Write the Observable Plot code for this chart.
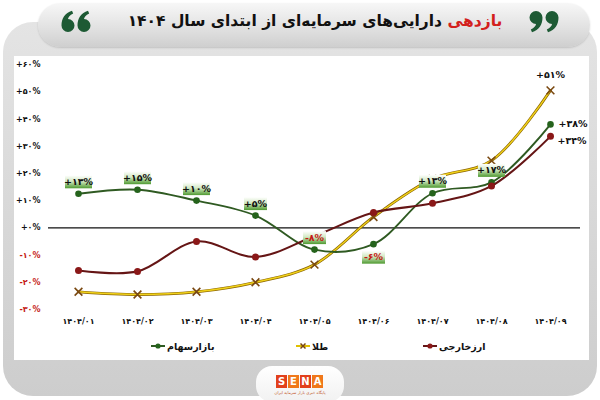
<!DOCTYPE html>
<html><head><meta charset="utf-8">
<script src="https://cdn.jsdelivr.net/npm/d3@7"></script>
<script src="https://cdn.jsdelivr.net/npm/@observablehq/plot@0.6"></script>
<style>
body{margin:0;background:#fff;font-family:"DejaVu Sans",sans-serif;}
#wrap{position:relative;width:600px;height:400px;overflow:hidden;background:#fff;}
.frame{position:absolute;left:3px;top:22px;width:594px;height:374px;border-radius:30px;background:linear-gradient(180deg,#e4e4e4 0%,#d6d6d6 60%,#cdcdcd 100%);}
.pill{position:absolute;left:38px;top:3px;width:552px;height:44px;border-radius:24px;background:linear-gradient(180deg,#f7f7f7 0%,#e2e2e2 55%,#cfcfcf 100%);box-shadow:0 1px 2px rgba(0,0,0,0.15);}
.panel{position:absolute;left:14px;top:56px;width:575px;height:304px;background:#fff;}
.title{position:absolute;left:125px;top:9px;width:380px;text-align:center;direction:rtl;font-weight:bold;font-size:15.5px;color:#111;white-space:nowrap;line-height:24px;}
.title .hl{color:#d3201c;}
.q{position:absolute;top:10px;}
.tab{position:absolute;left:256px;top:366px;width:88px;height:36px;border-radius:16px;background:linear-gradient(180deg,#ffffff,#f1f1f1);}
.sena{position:absolute;left:276px;top:375px;display:flex;gap:1px;}
.sena span{display:block;width:11px;height:13px;color:#fff;font-weight:bold;font-size:10px;line-height:13px;text-align:center;font-family:"DejaVu Sans",sans-serif;}
.sub{position:absolute;left:270px;top:390px;width:60px;text-align:center;font-size:4px;color:#c0501c;direction:rtl;white-space:nowrap;}
.leg{position:absolute;top:339px;height:14px;display:flex;align-items:center;gap:2px;font-weight:bold;font-size:9.5px;color:#111;white-space:nowrap;}
.leg span{direction:rtl;}
#chart{position:absolute;left:0;top:0;}
</style></head><body>
<div id="wrap">
  <div class="frame"></div>
  <div class="pill"></div>
  <svg class="q" style="left:60px;" width="31" height="23" viewBox="0 0 31 23">
    <defs><path id="comma" d="M1.5 15.5 C1.5 8.5 5 3 12 0.8 L13.2 3.4 C9.8 5.2 8.2 7 8 9 A6.5 6.5 0 1 1 1.5 15.5 Z" fill="#1d5a34"/></defs>
    <use href="#comma"/><use href="#comma" x="16"/>
  </svg>
  <svg class="q" style="left:529px;" width="31" height="23" viewBox="0 0 31 23">
    <g transform="rotate(180 15.5 11.5)"><use href="#comma"/><use href="#comma" x="16"/></g>
  </svg>
  <div class="title"><span class="hl">بازدهی</span> دارایی‌های سرمایه‌ای از ابتدای سال ۱۴۰۴</div>
  <div class="panel"></div>
  <div id="chart"></div>
  <div id="legend"></div>
  <div class="tab"></div>
  <div class="sena"><span style="background:#e2401c">S</span><span style="background:#f0781a">E</span><span style="background:#e2401c">N</span><span style="background:#f0781a">A</span></div>
  <div class="sub">پایگاه خبری بازار سرمایه ایران</div>
</div>
<script>
// ---- data ----
const categories = ["۱۴۰۴/۰۱","۱۴۰۴/۰۲","۱۴۰۴/۰۳","۱۴۰۴/۰۴","۱۴۰۴/۰۵","۱۴۰۴/۰۶","۱۴۰۴/۰۷","۱۴۰۴/۰۸","۱۴۰۴/۰۹"];
const stocks   = [12.5, 14, 10, 4.5, -8, -6, 12.7, 16.7, 38];
const gold     = [-23.5, -24.5, -23.5, -20, -13.5, 4, 18, 24.7, 50.5];
const currency = [-15.7, -16, -5, -10.7, -3, 5.6, 9, 15.4, 33.6];
const stockLabels = ["+۱۳%","+۱۵%","+۱۰%","+۵%","-۸%","-۶%","+۱۳%","+۱۷%","+۳۸%"];
const goldEndLabel = "+۵۱%";
const currencyEndLabel = "+۳۴%";
const yTicks = [-30,-20,-10,0,10,20,30,40,50,60];
const yTickLabels = ["-۳۰%","-۲۰%","-۱۰%","+۰%","+۱۰%","+۲۰%","+۳۰%","+۴۰%","+۵۰%","+۶۰%"];
const seriesNames = ["بازارسهام","طلا","ارزخارجی"];

// ---- build ----
const red = "#c41a16";
const boxFill = "#5aa53b";
const toRows = (vals) => categories.map((c,i)=>({c, v: vals[i], i}));
const stockRows = toRows(stocks).map(d => ({...d, label: stockLabels[d.i]}));
const goldRows = toRows(gold);
const curRows = toRows(currency);
const last = categories.length - 1;
const boxed = stockRows.filter(d => d.i < last);
const wideBox = {draw(ctx){ ctx.rect(-13.5,-6.5,27,13); }};
const narrowBox = {draw(ctx){ ctx.rect(-11.5,-6.5,23,13); }};
const isBelow = d => d.i === 5;

function labelMarks(rows, dy) {
  return [
    Plot.dot(rows.filter(d => d.label.length >= 4), {x: "c", y: "v", dy, symbol: wideBox, fill: boxFill}),
    Plot.dot(rows.filter(d => d.label.length < 4), {x: "c", y: "v", dy, symbol: narrowBox, fill: boxFill}),
    Plot.text(rows, {x: "c", y: "v", text: "label", dy, fill: d => d.v < 0 ? red : "#111", fontWeight: "bold", fontSize: 9.5})
  ];
}

const chart = Plot.plot({
  width: 600, height: 400,
  marginLeft: 48, marginRight: 20, marginTop: 64, marginBottom: 91,
  x: {type: "point", domain: categories, range: [78, 550], padding: 0, axis: null},
  y: {domain: [-30, 60], range: [309, 64], axis: null},
  style: {background: "transparent", fontFamily: "DejaVu Sans, sans-serif", overflow: "visible"},
  marks: [
    Plot.text(yTicks, {y: d => d, text: (d,i) => yTickLabels[i], frameAnchor: "left", textAnchor: "end", dx: -8,
      fill: d => d < 0 ? red : "#111", fontWeight: "bold", fontSize: 8}),
    Plot.text(categories, {x: d => d, text: d => d, frameAnchor: "bottom", dy: 14, fontWeight: "bold", fontSize: 8, fill: "#111"}),
    Plot.ruleY([0], {stroke: "#111", strokeWidth: 1.3}),
    // gold
    Plot.line(goldRows, {x: "c", y: "v", curve: "catmull-rom", stroke: "#8a6400", strokeWidth: 2.8}),
    Plot.line(goldRows, {x: "c", y: "v", curve: "catmull-rom", stroke: "#f1d21a", strokeWidth: 1.4}),
    Plot.dot(goldRows, {x: "c", y: "v", symbol: "times", r: 3.6, stroke: "#7a4810", strokeWidth: 1.6}),
    // stocks
    Plot.line(stockRows, {x: "c", y: "v", curve: "catmull-rom", stroke: "#2f5a22", strokeWidth: 1.9}),
    Plot.dot(stockRows, {x: "c", y: "v", r: 3.3, fill: "#25631c"}),
    // currency
    Plot.line(curRows, {x: "c", y: "v", curve: "catmull-rom", stroke: "#651515", strokeWidth: 2.1}),
    Plot.dot(curRows, {x: "c", y: "v", r: 3.5, fill: "#8a1818"}),
    // boxed labels
    ...labelMarks(boxed.filter(d => !isBelow(d)), -12),
    ...labelMarks(boxed.filter(isBelow), 13),
    // end labels
    Plot.text(stockRows.filter(d => d.i === last), {x: "c", y: "v", text: "label", dx: 8, textAnchor: "start", fontWeight: "bold", fontSize: 9.5, fill: "#111"}),
    Plot.text(curRows.filter(d => d.i === last), {x: "c", y: "v", text: () => currencyEndLabel, dx: 7, dy: 5, textAnchor: "start", fontWeight: "bold", fontSize: 9.5, fill: "#111"}),
    Plot.text(goldRows.filter(d => d.i === last), {x: "c", y: "v", text: () => goldEndLabel, dy: -15, fontWeight: "bold", fontSize: 9.5, fill: "#111"})
  ]
});
d3.select(chart).insert("defs", ":first-child").html(
  '<linearGradient id="lblgrad" x1="0" y1="0" x2="0" y2="1">' +
  '<stop offset="0" stop-color="#ffffff"/><stop offset="0.45" stop-color="#d3e9c4"/><stop offset="1" stop-color="#4f9a31"/></linearGradient>');
d3.select(chart).selectAll('[fill="' + boxFill + '"]').attr("fill", "url(#lblgrad)");
document.getElementById("chart").append(chart);

// ---- legend (HTML) ----
const legendItems = [
  {name: seriesNames[0], color: "#2f5a22", marker: "dot", markColor: "#25631c", left: 151},
  {name: seriesNames[1], color: "#e0c000", marker: "x", markColor: "#7a4810", left: 296},
  {name: seriesNames[2], color: "#651515", marker: "dot", markColor: "#8a1818", left: 423}
];
const legend = document.getElementById("legend");
for (const it of legendItems) {
  const div = document.createElement("div");
  div.className = "leg";
  div.style.left = it.left + "px";
  const m = it.marker === "dot"
    ? `<circle cx="7" cy="5" r="2.6" fill="${it.markColor}"/>`
    : `<path d="M4.5,2.5L9.5,7.5M9.5,2.5L4.5,7.5" stroke="${it.markColor}" stroke-width="1.5"/>`;
  div.innerHTML = `<svg width="14" height="10"><line x1="0" y1="5" x2="14" y2="5" stroke="${it.color}" stroke-width="2"/>${m}</svg><span>${it.name}</span>`;
  legend.append(div);
}
</script>
</body></html>
